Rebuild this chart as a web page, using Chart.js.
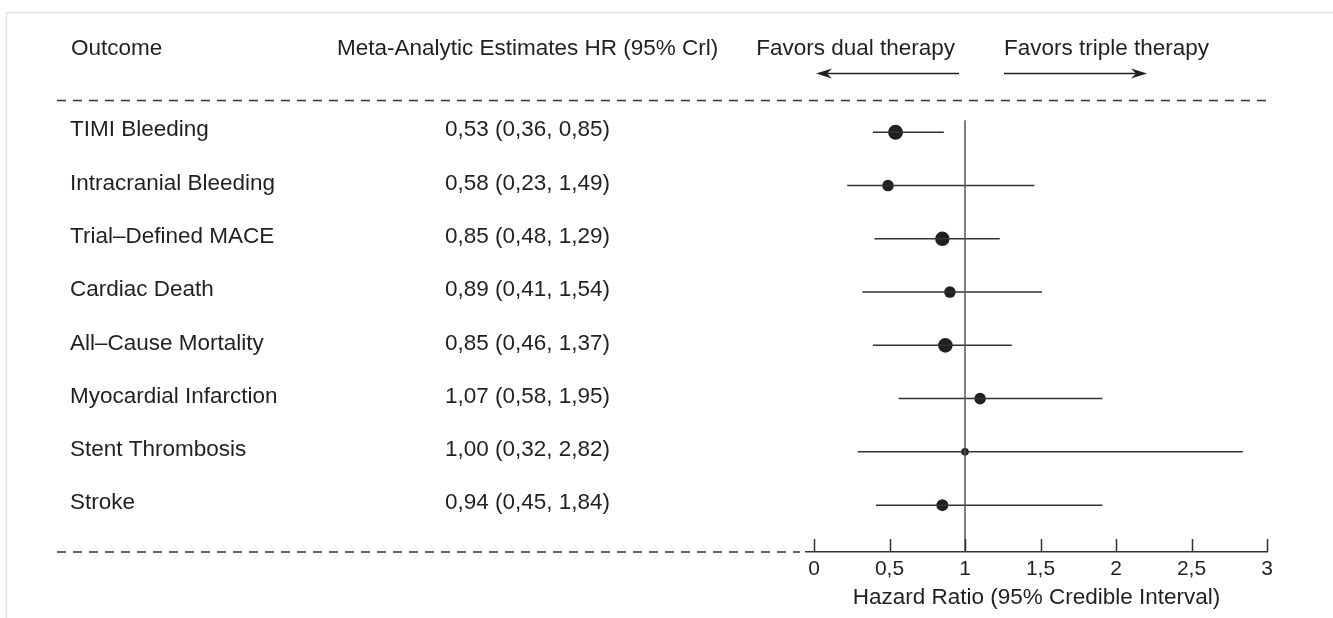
<!DOCTYPE html>
<html>
<head>
<meta charset="utf-8">
<script src="https://cdn.jsdelivr.net/npm/chart.js@4/dist/chart.umd.min.js"></script>
<style>
  html, body { margin: 0; padding: 0; background: #fff; }
  canvas { display: block; }
</style>
</head>
<body>
<canvas id="forest" width="1333" height="618"></canvas>
<script>
// Data
const outcomes = ['TIMI Bleeding', 'Intracranial Bleeding', 'Trial\u2013Defined MACE', 'Cardiac Death',
  'All\u2013Cause Mortality', 'Myocardial Infarction', 'Stent Thrombosis', 'Stroke'];
const estimateLabels = ['0,53 (0,36, 0,85)', '0,58 (0,23, 1,49)', '0,85 (0,48, 1,29)', '0,89 (0,41, 1,54)',
  '0,85 (0,46, 1,37)', '1,07 (0,58, 1,95)', '1,00 (0,32, 2,82)', '0,94 (0,45, 1,84)'];
const hr    = [0.54, 0.49, 0.85, 0.90, 0.87, 1.10, 1.00, 0.85];
const lower = [0.39, 0.22, 0.40, 0.32, 0.39, 0.56, 0.29, 0.41];
const upper = [0.86, 1.46, 1.23, 1.51, 1.31, 1.91, 2.84, 1.91];
const markerSize = [7.5, 5.8, 7.2, 5.8, 7.3, 5.8, 3.8, 6];
const xTicks = [0, 0.5, 1, 1.5, 2, 2.5, 3];

const FONT = 'Arial, "Liberation Sans", Helvetica, sans-serif';
const INK = '#231f20';
const Y_MIN = -1, Y_MAX = 7.88;

const fmt = v => String(v).replace('.', ',');

// CI whiskers: one small line dataset per outcome
const ciSets = outcomes.map((o, i) => ({
  type: 'line',
  label: o,
  data: [{ x: lower[i], y: i }, { x: upper[i], y: i }],
  borderColor: '#333',
  borderWidth: 1.5,
  pointRadius: 0,
  showLine: true
}));

const decor = {
  id: 'decor',
  afterDraw(chart) {
    const { ctx, chartArea, scales: { x, y } } = chart;
    ctx.save();

    // light frame top / left
    ctx.strokeStyle = '#e2e2e2';
    ctx.lineWidth = 1.5;
    ctx.beginPath();
    ctx.moveTo(6.5, 618); ctx.lineTo(6.5, 12.5); ctx.lineTo(1333, 12.5);
    ctx.stroke();

    ctx.fillStyle = INK;
    ctx.font = '22.5px ' + FONT;
    ctx.textBaseline = 'middle';

    // headers
    ctx.textAlign = 'left';
    ctx.fillText('Outcome', 71, 49);
    ctx.fillText('Meta-Analytic Estimates HR (95% Crl)', 337, 49);
    ctx.textAlign = 'right';
    ctx.fillText('Favors dual therapy', 955, 49);
    ctx.textAlign = 'left';
    ctx.fillText('Favors triple therapy', 1004, 49);

    // direction arrows
    const arrow = (x1, x2, yy) => {
      const dir = Math.sign(x2 - x1);
      ctx.strokeStyle = INK;
      ctx.lineWidth = 1.5;
      ctx.beginPath();
      ctx.moveTo(x1, yy); ctx.lineTo(x2 - dir * 8, yy);
      ctx.stroke();
      ctx.beginPath();
      ctx.moveTo(x2, yy);
      ctx.lineTo(x2 - dir * 16, yy - 5);
      ctx.lineTo(x2 - dir * 11, yy);
      ctx.lineTo(x2 - dir * 16, yy + 5);
      ctx.closePath();
      ctx.fill();
    };
    arrow(959, 816, 73.5);
    arrow(1004, 1147, 73.5);

    // dashed separators
    ctx.strokeStyle = '#333';
    ctx.lineWidth = 1.3;
    ctx.setLineDash([9, 7]);
    ctx.beginPath();
    ctx.moveTo(57, 100.5); ctx.lineTo(1266, 100.5);
    ctx.moveTo(57, chartArea.bottom); ctx.lineTo(800, chartArea.bottom);
    ctx.stroke();
    ctx.setLineDash([]);

    // row labels
    outcomes.forEach((o, i) => {
      const py = y.getPixelForValue(i) - 2;
      ctx.textAlign = 'left';
      ctx.fillText(o, 70, py);
      ctx.fillText(estimateLabels[i], 445, py);
    });

    // inward tick marks on the x axis
    ctx.strokeStyle = '#333';
    ctx.lineWidth = 1.5;
    ctx.beginPath();
    xTicks.forEach(v => {
      const px = Math.round(x.getPixelForValue(v)) + 0.5;
      ctx.moveTo(px, chartArea.bottom);
      ctx.lineTo(px, chartArea.bottom - 13);
    });
    ctx.stroke();

    ctx.restore();
  }
};

new Chart(document.getElementById('forest'), {
  type: 'scatter',
  data: {
    datasets: [
      {
        type: 'line',
        label: 'HR = 1',
        data: [{ x: 1, y: -0.225 }, { x: 1, y: Y_MAX }],
        borderColor: '#555',
        borderWidth: 1.5,
        pointRadius: 0,
        showLine: true
      },
      ...ciSets,
      {
        label: 'HR',
        data: hr.map((v, i) => ({ x: v, y: i })),
        pointRadius: markerSize,
        pointBackgroundColor: INK,
        pointBorderColor: INK,
        pointBorderWidth: 0
      }
    ]
  },
  options: {
    responsive: false,
    animation: false,
    layout: { padding: { left: 806, right: 66, top: 79, bottom: 0 } },
    plugins: { legend: { display: false }, tooltip: { enabled: false } },
    scales: {
      x: {
        type: 'linear',
        min: -0.053,
        max: 3,
        afterBuildTicks: s => { s.ticks = xTicks.map(v => ({ value: v })); },
        afterFit: s => { s.height = 66; },
        grid: { display: false, drawTicks: false },
        border: { display: true, color: '#333', width: 1.5 },
        ticks: {
          color: INK,
          padding: 5,
          font: { family: FONT, size: 21 },
          callback: v => fmt(v)
        },
        title: {
          display: true,
          text: 'Hazard Ratio (95% Credible Interval)',
          color: INK,
          padding: { top: 0, bottom: 7 },
          font: { family: FONT, size: 22.5 }
        }
      },
      y: {
        type: 'linear',
        display: false,
        reverse: true,
        min: Y_MIN,
        max: Y_MAX
      }
    }
  },
  plugins: [decor]
});
</script>
</body>
</html>
